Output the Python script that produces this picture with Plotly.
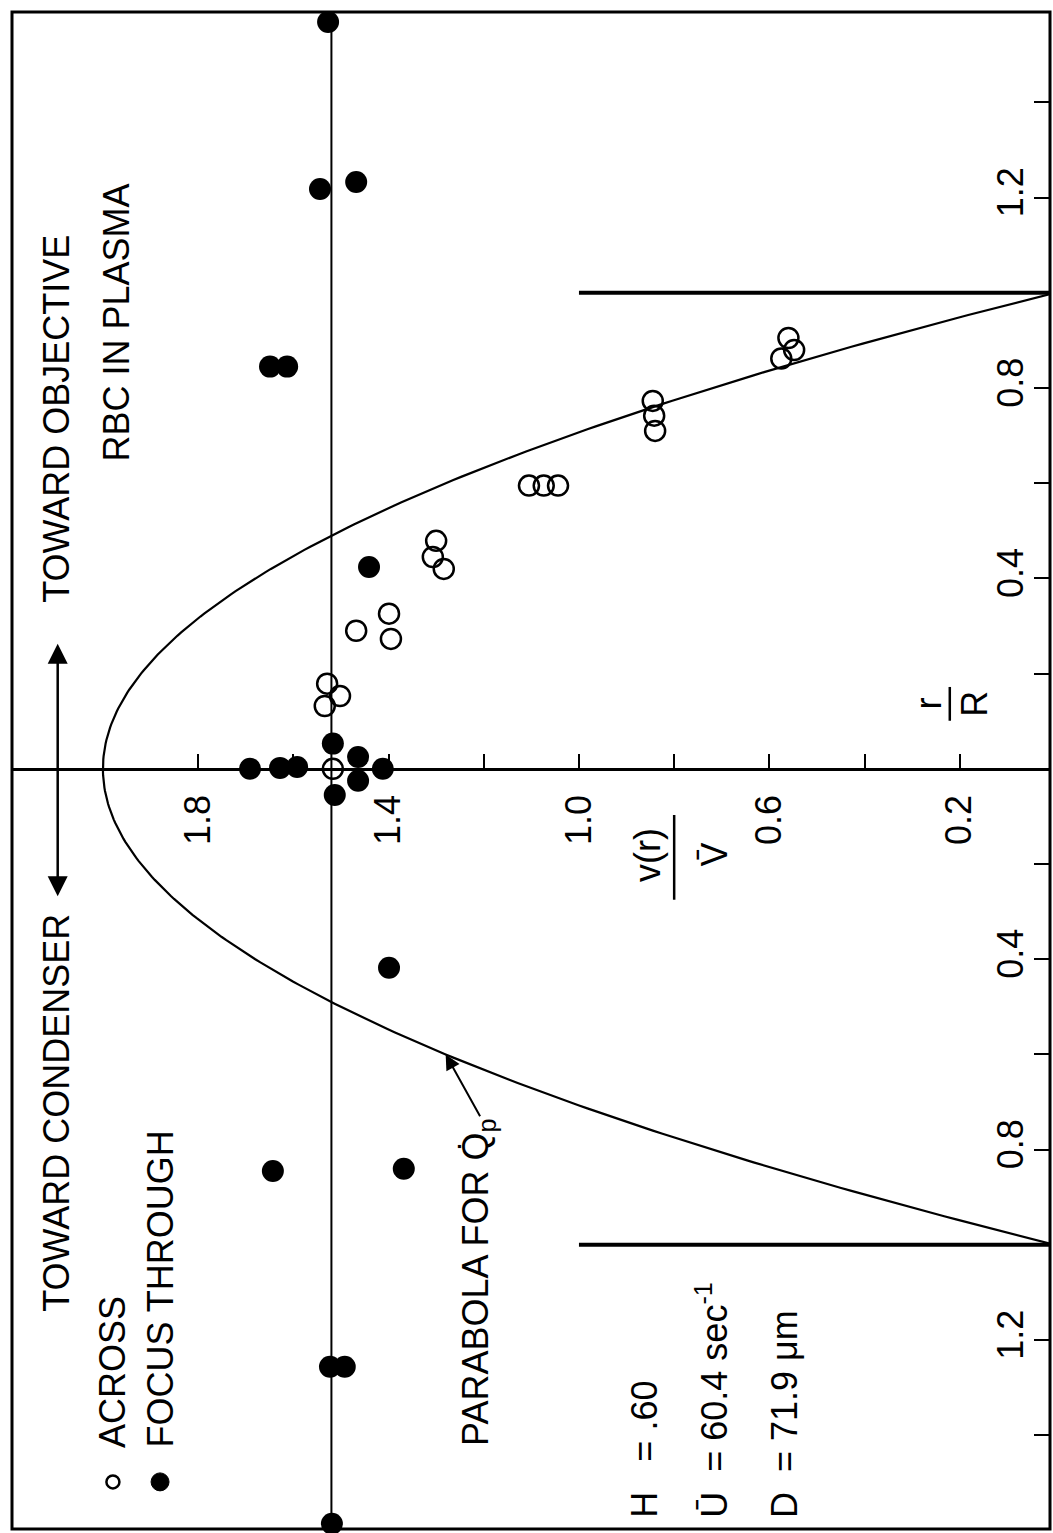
import numpy as np
import plotly.graph_objects as go

# ---- data -------------------------------------------------------------
# "Across" measurements (open circles): v(r)/V-bar and r/R
across_v = [1.517, 1.529, 1.502, 1.534, 1.468, 1.399, 1.395, 1.300, 1.307, 1.284,
            1.105, 1.074, 1.044, 0.845, 0.842, 0.840, 0.575, 0.548, 0.560]
across_r = [0.000, 0.179, 0.153, 0.132, 0.290, 0.326, 0.273, 0.479, 0.445, 0.420,
            0.595, 0.595, 0.595, 0.773, 0.742, 0.710, 0.862, 0.880, 0.905]

# "Focus through" measurements (filled circles)
focus_v = [1.527, 1.544, 1.468, 1.649, 1.613, 1.441, 1.517, 1.691, 1.628, 1.592,
           1.464, 1.412, 1.464, 1.513, 1.399, 1.643, 1.368, 1.523, 1.492, 1.519]
focus_r = [1.569, 1.218, 1.233, 0.845, 0.845, 0.424, 0.053, 0.000, 0.002, 0.004,
           0.025, 0.000, -0.025, -0.055, -0.418, -0.845, -0.840, -1.256, -1.256, -1.586]

V_MAX = 2.0        # centreline velocity of the plasma parabola
V_RBC = 1.52       # mean RBC velocity line
WALL_R = 1.0       # tube wall, r/R
WALL_V = 1.0       # extent of the wall marks along the velocity axis

v_major = [0.2, 0.6, 1.0, 1.4, 1.8]
v_minor = [0.4, 0.8, 1.2, 1.6]
r_major = [-1.2, -0.8, -0.4, 0.4, 0.8, 1.2]
r_minor = [-1.4, -1.0, -0.6, -0.2, 0.2, 0.6, 1.0, 1.4]

X_RANGE = [2.191, 0.0105]
Y_RANGE = [-1.597, 1.590]

FONT = "Liberation Sans"
FS = 36

# ---- figure -----------------------------------------------------------
fig = go.Figure()

r_curve = np.linspace(-WALL_R, WALL_R, 301)
fig.add_trace(go.Scatter(x=V_MAX * (1 - r_curve ** 2), y=r_curve, mode="lines",
                         line=dict(color="black", width=2.2), hoverinfo="skip"))

fig.add_trace(go.Scatter(x=[V_RBC, V_RBC], y=Y_RANGE, mode="lines",
                         line=dict(color="black", width=2), hoverinfo="skip"))

for s in (1, -1):
    fig.add_trace(go.Scatter(x=[0, WALL_V], y=[s * WALL_R, s * WALL_R], mode="lines",
                             line=dict(color="black", width=4), hoverinfo="skip"))

fig.add_trace(go.Scatter(x=across_v, y=across_r, mode="markers", name="ACROSS",
                         marker=dict(symbol="circle-open", size=20, color="black",
                                     line=dict(width=2.5, color="black")),
                         cliponaxis=False))
fig.add_trace(go.Scatter(x=focus_v, y=focus_r, mode="markers", name="FOCUS THROUGH",
                         marker=dict(symbol="circle", size=22, color="black"),
                         cliponaxis=False))

# objective / condenser direction arrow
fig.add_annotation(x=2.095, y=0.263, ax=2.095, ay=-0.271, xref="x", yref="y",
                   axref="x", ayref="y", showarrow=True, arrowhead=2, arrowside="end+start",
                   arrowsize=1.6, arrowwidth=2.5, arrowcolor="black", text="")
# pointer to the parabola
fig.add_annotation(x=V_MAX * (1 - 0.60 ** 2), y=-0.60, ax=1.206, ay=-0.733, xref="x", yref="y",
                   axref="x", ayref="y", showarrow=True, arrowhead=2, arrowsize=1.5,
                   arrowwidth=2, arrowcolor="black", text="")

# ---- rotated labels ---------------------------------------------------
def label(text, x, y, size=FS, xanchor="center", yanchor="middle"):
    fig.add_annotation(text=text, x=x, y=y, xref="x", yref="y", showarrow=False,
                       textangle=-90, xanchor=xanchor, yanchor=yanchor,
                       font=dict(family=FONT, size=size, color="black"))

label("TOWARD OBJECTIVE", 2.097, 0.735)
label("TOWARD CONDENSER", 2.097, -0.723)
label("RBC IN PLASMA", 1.971, 0.937)
label("ACROSS", 1.979, -1.431, yanchor="bottom")
label("FOCUS THROUGH", 1.880, -1.431, yanchor="bottom")
label("PARABOLA FOR Q\u0307<sub>p</sub>", 1.212, -1.080)
label("H\u00a0\u00a0\u00a0=\u00a0.60", 0.863, -1.578, yanchor="bottom")
label("\u016a\u00a0\u00a0=\u00a060.4\u00a0sec<sup>-1</sup>", 0.721, -1.578, yanchor="bottom")
label("D\u00a0\u00a0=\u00a071.9\u00a0\u03bcm", 0.567, -1.578, yanchor="bottom")

# v(r)/V-bar fraction
label("v(r)", 0.855, -0.181)
label("V\u0304", 0.715, -0.181)
fig.add_shape(type="line", x0=0.800, x1=0.800, y0=-0.097, y1=-0.275,
              line=dict(color="black", width=2.5))
# r/R fraction
label("r", 0.265, 0.137)
label("R", 0.168, 0.137)
fig.add_shape(type="line", x0=0.221, x1=0.221, y0=0.172, y1=0.101,
              line=dict(color="black", width=2.5))

# legend keys (pixel-sized circles)
fig.add_shape(type="circle", xref="x", yref="y", xsizemode="pixel", ysizemode="pixel",
              xanchor=1.979, yanchor=-1.498, x0=-6.5, x1=6.5, y0=-6.5, y1=6.5,
              line=dict(color="black", width=2.5))
fig.add_shape(type="circle", xref="x", yref="y", xsizemode="pixel", ysizemode="pixel",
              xanchor=1.880, yanchor=-1.498, x0=-9, x1=9, y0=-9, y1=9,
              line=dict(color="black", width=1), fillcolor="black")

# frame
fig.add_shape(type="rect", xref="paper", yref="paper", x0=0, x1=1, y0=0, y1=1,
              line=dict(color="black", width=3))

x_pos = (0 - Y_RANGE[0]) / (Y_RANGE[1] - Y_RANGE[0])
tick_font = dict(family=FONT, size=FS, color="black")

fig.update_layout(
    width=1053, height=1533,
    margin=dict(l=12, r=3, t=12, b=4),
    plot_bgcolor="white", paper_bgcolor="white",
    showlegend=False,
    xaxis=dict(range=X_RANGE, anchor="free", position=x_pos, showline=True,
               linewidth=2.5, linecolor="black", ticks="inside", ticklen=14,
               tickwidth=2, tickcolor="black", tickmode="array", tickvals=v_major,
               ticktext=[f"{v:.1f}" for v in v_major], tickangle=-90,
               tickfont=tick_font, ticklabelstandoff=10,
               minor=dict(tickmode="array", tickvals=v_minor, ticks="inside",
                          ticklen=14, tickwidth=2, tickcolor="black"),
               showgrid=False, zeroline=False),
    yaxis=dict(range=Y_RANGE, side="right", anchor="x", showline=False,
               ticks="inside", ticklen=16, tickwidth=2, tickcolor="black",
               tickmode="array", tickvals=r_major,
               ticktext=[f"{abs(r):.1f}" for r in r_major], tickangle=-90,
               ticklabelposition="inside", tickfont=tick_font, ticklabelstandoff=8,
               minor=dict(tickmode="array", tickvals=r_minor, ticks="inside",
                          ticklen=16, tickwidth=2, tickcolor="black"),
               showgrid=False, zeroline=False),
)

fig.write_html("out.html")
